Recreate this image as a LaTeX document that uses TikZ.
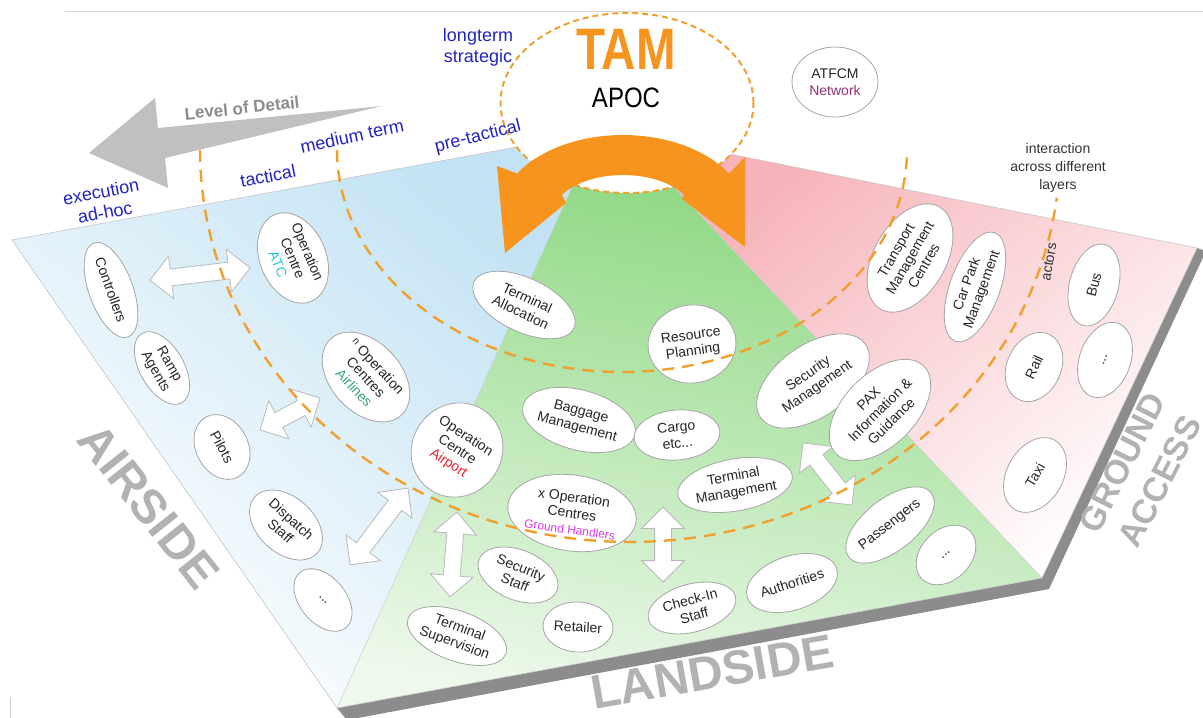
\documentclass[tikz,border=0pt]{standalone}
\usepackage{fontspec}
\setmainfont{Liberation Sans}
\usetikzlibrary{shapes.geometric,shapes.arrows,calc}
\definecolor{orA}{RGB}{247,148,29}
\definecolor{dashO}{RGB}{240,160,45}
\definecolor{blueT}{RGB}{35,35,195}
\definecolor{bigG}{RGB}{178,178,178}
\definecolor{lodG}{RGB}{192,192,192}
\definecolor{lodT}{RGB}{140,140,140}
\definecolor{regB}{RGB}{195,227,244}
\definecolor{regG}{RGB}{140,215,128}
\definecolor{regGb}{RGB}{238,249,236}
\definecolor{regP}{RGB}{246,180,186}
\definecolor{shadowG}{RGB}{140,140,140}
\definecolor{atcC}{RGB}{40,200,215}
\definecolor{airlC}{RGB}{60,165,120}
\definecolor{airpC}{RGB}{230,35,50}
\definecolor{ghC}{RGB}{220,60,230}
\definecolor{netC}{RGB}{150,50,120}
\definecolor{ovalB}{RGB}{165,165,165}
\newcommand{\fsz}[2]{\fontsize{#1}{#2}\selectfont}
\begin{document}
\begin{tikzpicture}[x=1pt,y=-1pt]
\tikzset{
  oval/.style={ellipse, draw=ovalB, fill=white, line width=0.8pt, inner sep=0pt, align=center, font=\fsz{14}{16}, text=black!85},
  wdbl/.style={double arrow, draw=gray!55, fill=white, line width=0.8pt, inner xsep=0pt, inner ysep=8pt, double arrow head extend=13pt, double arrow tip angle=90},
  dashline/.style={draw=dashO, line width=2.4pt, dash pattern=on 12pt off 8pt},
  bluelab/.style={text=blueT, font=\fsz{18}{21}, align=center},
  biglab/.style={text=bigG, font=\fsz{48}{48}\bfseries, align=center}
}
\useasboundingbox (0,0) rectangle (1203,718);
\fill[white] (0,0) rectangle (1203,718);
\draw[gray!30, line width=0.8pt] (65,11) -- (1203,11);
\draw[gray!40, line width=1pt] (10,697) -- (10,718);

% Level of detail arrow
\fill[lodG] (89,153) -- (155,98) -- (158,128) -- (382,106) -- (165,158) -- (168,188) -- cycle;
\node[text=lodT, font=\fsz{17}{17}\bfseries, rotate=6] (lod) at (242,108) {Level of Detail};

% shadow band
\fill[shadowG] (337,708) -- (1042,578) -- (1197,248) -- (1206,251) -- (1049,589) -- (347,720) -- cycle;

% regions
\shade[top color=regB, bottom color=white, shading angle=-40] (12,240) -- (560,139) -- (573,185) -- (337,708) -- cycle;
\shade[top color=regG, bottom color=regGb, shading angle=-10] (573,185) -- (672,185) -- (1042,578) -- (337,708) -- cycle;
\shade[top color=regP, bottom color=white, shading angle=40] (672,185) -- (700,148) -- (1197,248) -- (1042,578) -- cycle;
\draw[gray!45, line width=0.6pt] (560,139) -- (12,240) -- (337,708) -- (1042,578) -- (1197,248) -- (700,148);
\draw[gray!40, line width=0.5pt] (573,185) -- (337,708) (672,185) -- (1042,578);

% TAM ellipse
\node[ellipse, draw=dashO, fill=white, line width=2pt, dash pattern=on 6pt off 4pt, minimum width=253pt, minimum height=180pt, inner sep=0pt] (tamell) at (627,103) {};

% orange double arrow
\fill[orA] (497,166) -- plot[domain=212:328, samples=40] ({623+125*cos(\x)},{217+82*sin(\x)}) -- (745,157) -- (745,247) -- (682,199) -- plot[domain=328:212, samples=40] ({623+72*cos(\x)},{217+42*sin(\x)}) -- (566,203) -- (505,253) -- cycle;

% arrow end coordinates
\coordinate (a1s) at (150,280); \coordinate (a1e) at (250,268);
\coordinate (a2s) at (260,430); \coordinate (a2e) at (320,398);
\coordinate (a3s) at (350,565); \coordinate (a3e) at (408,488);
\coordinate (a4s) at (450,597); \coordinate (a4e) at (457,512);
\coordinate (a5s) at (663,582); \coordinate (a5e) at (663,507);
\coordinate (a6s) at (803,443); \coordinate (a6e) at (852,505);
\path (a1s) -- (a1e) node[wdbl, midway, sloped, minimum height=101pt] (w1) {};
\path (a2s) -- (a2e) node[wdbl, midway, sloped, minimum height=68pt] (w2) {};
\path (a3s) -- (a3e) node[wdbl, midway, sloped, minimum height=96pt] (w3) {};
\path (a4s) -- (a4e) node[wdbl, midway, sloped, minimum height=85pt] (w4) {};
\path (a5s) -- (a5e) node[wdbl, midway, sloped, minimum height=75pt] (w5) {};
\path (a6s) -- (a6e) node[wdbl, midway, sloped, minimum height=79pt] (w6) {};

% ellipses - airside
\node[oval, rotate=-70, minimum width=100pt, minimum height=44pt] (ctrl) at (111,290) {Controllers};
\node[oval, rotate=-67, minimum width=94pt, minimum height=66pt] (atc) at (293,258) {Operation\\Centre\\{\color{atcC}ATC}};
\node[oval, rotate=-60, minimum width=80pt, minimum height=44pt] (ramp) at (162,368) {Ramp\\Agents};
\node[oval, rotate=-47, minimum width=104pt, minimum height=70pt] (airl) at (366,377) {\raisebox{3pt}{\fsz{10}{10}n} Operation\\Centres\\{\color{airlC}Airlines}};
\node[oval, rotate=-62, minimum width=68pt, minimum height=52pt] (pilots) at (222,447) {Pilots};
\node[oval, rotate=-42, minimum width=84pt, minimum height=56pt] (disp) at (286,525) {Dispatch\\Staff};
\node[oval, rotate=-50, minimum width=72pt, minimum height=46pt] (dotsA) at (323,600) {...};
\node[oval, rotate=-33, minimum width=90pt, minimum height=96pt] (airp) at (457,450) {Operation\\Centre\\{\color{airpC}Airport}};

% ellipses - landside
\node[oval, rotate=-25, minimum width=110pt, minimum height=54pt] (talloc) at (524,305) {Terminal\\Allocation};
\node[oval, rotate=8, minimum width=88pt, minimum height=78pt] (resp) at (692,344) {Resource\\Planning};
\node[oval, rotate=-15, minimum width=104pt, minimum height=60pt] (bag) at (579,420) {Baggage\\Management};
\node[oval, rotate=5, minimum width=86pt, minimum height=50pt] (cargo) at (677,435) {Cargo\\etc...};
\node[oval, rotate=35, minimum width=128pt, minimum height=72pt] (secm) at (813,381) {Security\\Management};
\node[oval, rotate=45, minimum width=124pt, minimum height=72pt] (pax) at (880,410) {PAX\\Information \&\\Guidance};
\node[oval, rotate=10, minimum width=116pt, minimum height=52pt] (tman) at (735,485) {Terminal\\Management};
\node[oval, rotate=-8, minimum width=126pt, minimum height=76pt] (xop) at (572,513) {x Operation\\Centres\\{\fsz{12}{14}\color{ghC}Ground Handlers}};
\node[oval, rotate=-22, minimum width=84pt, minimum height=50pt] (secs) at (518,575) {Security\\Staff};
\node[oval, rotate=-20, minimum width=104pt, minimum height=50pt] (tsup) at (457,636) {Terminal\\Supervision};
\node[oval, rotate=-3, minimum width=70pt, minimum height=50pt] (ret) at (578,627) {Retailer};
\node[oval, rotate=15, minimum width=90pt, minimum height=48pt] (chk) at (692,608) {Check-In\\Staff};
\node[oval, rotate=18, minimum width=94pt, minimum height=54pt] (auth) at (792,583) {Authorities};
\node[oval, rotate=38, minimum width=100pt, minimum height=52pt] (pass) at (890,525) {Passengers};
\node[oval, rotate=45, minimum width=68pt, minimum height=50pt] (dotsL) at (946,555) {...};

% ellipses - ground access
\node[oval, rotate=60, minimum width=118pt, minimum height=72pt] (tmc) at (910,258) {Transport\\Management\\Centres};
\node[oval, rotate=70, minimum width=112pt, minimum height=50pt] (cpm) at (975,287) {Car Park\\Management};
\node[oval, rotate=75, minimum width=84pt, minimum height=49pt] (bus) at (1094,285) {Bus};
\node[oval, rotate=65, minimum width=72pt, minimum height=54pt] (rail) at (1034,367) {Rail};
\node[oval, rotate=70, minimum width=78pt, minimum height=51pt] (dotsR) at (1105,360) {...};
\node[oval, rotate=60, minimum width=80pt, minimum height=56pt] (taxi) at (1035,475) {Taxi};

% ATFCM
\node[oval, font=\fsz{14}{17}, minimum width=86pt, minimum height=70pt] (atfcm) at (835,82) {ATFCM\\{\color{netC}Network}};

% dashed layer arcs
\draw[dashline] plot[domain=180:7, samples=120] ({630+430*cos(\x)},{150+392*sin(\x)});
\draw[dashline] plot[domain=180:0, samples=100] ({622+285*cos(\x)},{150+222*sin(\x)});

% TAM / APOC
\node[text=orA, font=\fsz{50}{50}\bfseries, xscale=0.95, yscale=1.17] (tam) at (626,49) {TAM};
\node[text=black, font=\fsz{24}{24}, yscale=1.17] (apoc) at (626,98) {APOC};

% blue layer labels
\node[bluelab] (strat) at (478,47) {longterm\\strategic};
\node[bluelab, rotate=14] (pretac) at (478,137) {pre-tactical};
\node[bluelab, rotate=12] (medium) at (352,136) {medium term};
\node[bluelab, rotate=11] (tact) at (268,176) {tactical};
\node[bluelab, rotate=11] (exec) at (103,202) {execution\\ad-hoc};

% other labels
\node[text=black!80, font=\fsz{14}{18}, align=center] (inter) at (1058,168) {interaction\\across different\\layers};
\node[text=black!80, font=\fsz{14}{16}, rotate=80] (actors) at (1049,262) {actors};

% big gray labels
\node[biglab, rotate=-51.5] (airside) at (149,506) {AIRSIDE};
\node[biglab, rotate=10] (landside) at (712,672) {LANDSIDE};
\node[biglab, font=\fsz{34}{42}\bfseries, rotate=63] (ground) at (1141,472) {GROUND\\ACCESS};
\end{tikzpicture}
\end{document}
